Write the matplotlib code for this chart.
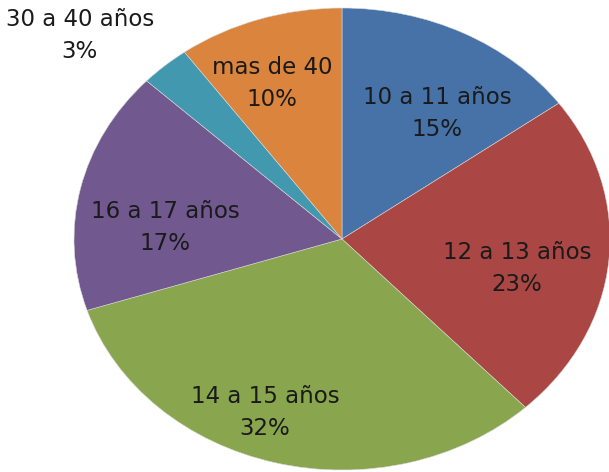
import matplotlib
matplotlib.use("Agg")
from matplotlib import pyplot as plt

# Datos del grafico
labels = ['10 a 11 años', '12 a 13 años', '14 a 15 años', '16 a 17 años', '30 a 40 años', 'mas de 40']
sizes = [15, 23, 32, 17, 3, 10]
colors = ['#4672A8', '#AA4644', '#89A54E', '#71588F', '#4198AF', '#DB843D']

# posicion de cada etiqueta (coordenadas del eje, radio 1)
label_pos = [(0.354, 0.545), (0.653, -0.126), (-0.287, -0.749),
             (-0.660, 0.048), (-0.978, 0.883), (-0.261, 0.675)]

fig = plt.figure(figsize=(6.09, 4.72), dpi=100)
ax = fig.add_axes([74 / 609, 2 / 472, 536 / 609, 462 / 472])

texts_in = [f'{l}\n{s}%' for l, s in zip(labels, sizes)]
wedges, texts = ax.pie(sizes, labels=texts_in, colors=colors, startangle=90,
                       counterclock=False, labeldistance=0.68,
                       wedgeprops=dict(edgecolor='#d8d8d8', linewidth=0.4),
                       textprops=dict(fontsize=16.5, color='#1a1a1a', family='DejaVu Sans',
                                      linespacing=1.5))
for t, p in zip(texts, label_pos):
    t.set_ha('center')
    t.set_va('center')
    t.set_position(p)

ax.set_xlim(-1, 1)
ax.set_ylim(-1, 1)
ax.set_aspect('auto')

fig.savefig('out.png', dpi=100)
